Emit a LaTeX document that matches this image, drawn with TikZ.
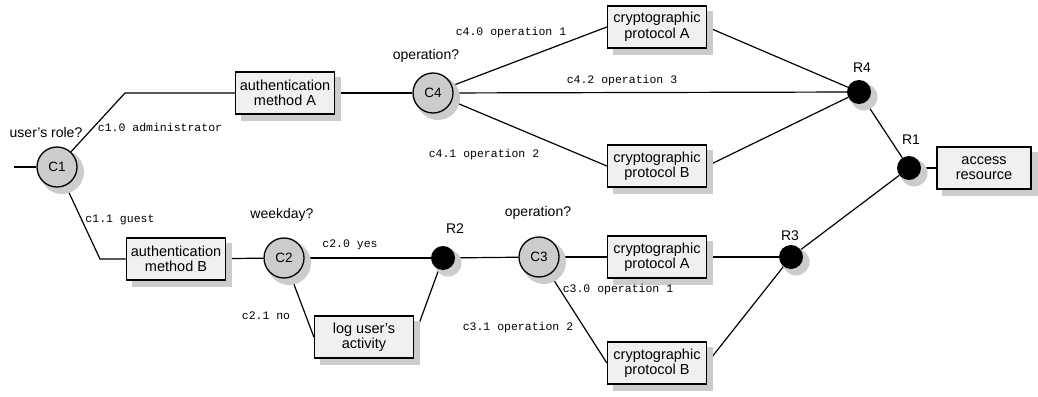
\documentclass[tikz,border=0pt]{standalone}
\usepackage{fontspec}
\setmainfont{Liberation Sans}
\setmonofont{Liberation Mono}
\usetikzlibrary{backgrounds}
\begin{document}
\begin{tikzpicture}[x=1pt,y=1pt,
  conn/.style={line width=1.2pt},
  shadowfill/.style={fill=gray!40},
  box/.style={draw, line width=1.3pt, fill=gray!12, minimum width=99pt, minimum height=42pt,
    inner sep=1pt, align=center, font=\fontsize{14.5}{15.5}\selectfont},
  cnode/.style={circle, draw, line width=1.3pt, fill=gray!40, minimum size=40pt, inner sep=0pt,
    font=\fontsize{13.5}{13.5}\selectfont},
  rnode/.style={circle, fill=black, minimum size=24pt, inner sep=0pt},
  head/.style={font=\fontsize{14}{15}\selectfont, inner sep=0pt},
  lab/.style={font=\ttfamily\fontsize{11.5}{12}\selectfont, inner sep=0pt}
]
\useasboundingbox (0,0) rectangle (1038,-396);

% nodes
\node[cnode] (C1) at (57,-167) {C1};
\node[box] (authA) at (285,-93) {authentication\\method A};
\node[cnode] (C4) at (433,-93) {C4};
\node[box] (cA1) at (657,-27) {cryptographic\\protocol A};
\node[box] (cB1) at (657,-166) {cryptographic\\protocol B};
\node[rnode] (R4) at (859,-92) {};
\node[rnode] (R1) at (909,-168) {};
\node[box, minimum width=94pt] (acc) at (984,-168) {access\\resource};
\node[box] (authB) at (176,-259) {authentication\\method B};
\node[cnode] (C2) at (284,-258) {C2};
\node[rnode] (R2) at (443,-258) {};
\node[box] (log) at (364,-337) {log user's\\activity};
\node[cnode] (C3) at (539,-257) {C3};
\node[box] (cA2) at (657,-257) {cryptographic\\protocol A};
\node[box] (cB2) at (657,-363) {cryptographic\\protocol B};
\node[rnode] (R3) at (791,-257) {};

\coordinate (start) at (14,-167);
\coordinate (c1a) at (125,-93);
\coordinate (c1b) at (100,-259);

\begin{pgfonlayer}{background}
\fill[white] (0,0) rectangle (1038,-396);
% connectors
\draw[conn] (start) -- (C1);
\draw[conn] (C1) -- (c1a) -- (authA.west);
\draw[conn] (C1) -- (c1b) -- (authB.west);
\draw[conn] (authA) -- (C4);
\draw[conn] (C4) -- (cA1.west);
\draw[conn] (C4) -- (R4);
\draw[conn] (C4) -- (cB1.west);
\draw[conn] (cA1.east) -- (R4);
\draw[conn] (cB1.east) -- (R4);
\draw[conn] (R4) -- (R1);
\draw[conn] (R1) -- (acc.west);
\draw[conn] (authB) -- (C2);
\draw[conn] (C2) -- (R2);
\draw[conn] (C2) -- (log.west);
\draw[conn] (R2) -- (log.east);
\draw[conn] (R2) -- (C3);
\draw[conn] (C3) -- (cA2.west);
\draw[conn] (C3) -- (cB2.west);
\draw[conn] (cA2.east) -- (R3);
\draw[conn] (cB2.east) -- (R3);
\draw[conn] (R3) -- (R1);
% shadows
\foreach \n in {authA,cA1,cB1,acc,authB,log,cA2,cB2}
  \fill[shadowfill] ([xshift=6pt,yshift=-6pt]\n.south west) rectangle ([xshift=6pt,yshift=-6pt]\n.north east);
\foreach \n in {C1,C2,C3,C4}
  \fill[shadowfill] ([xshift=5pt,yshift=-5pt]\n.center) circle (22);
\foreach \n in {R1,R2,R3,R4}
  \fill[shadowfill] ([xshift=5pt,yshift=-5pt]\n.center) circle (13.5);
\end{pgfonlayer}

% labels
\node[head] (t1) at (46,-132) {user's role?};
\node[lab] (l10) at (160,-127) {c1.0 administrator};
\node[lab] (l11) at (120,-220) {c1.1 guest};
\node[head] (t2) at (282,-215) {weekday?};
\node[lab] (l20) at (350,-245) {c2.0 yes};
\node[head] (tR2) at (455,-229) {R2};
\node[lab] (l21) at (266,-316) {c2.1 no};
\node[head] (t3) at (538,-213) {operation?};
\node[lab] (l30) at (618,-290) {c3.0 operation 1};
\node[lab] (l31) at (518,-328) {c3.1 operation 2};
\node[head] (tR3) at (790,-236) {R3};
\node[head] (tR4) at (862,-68) {R4};
\node[head] (tR1) at (911,-140) {R1};
\node[head] (t4) at (426,-56) {operation?};
\node[lab] (l40) at (511,-33) {c4.0 operation 1};
\node[lab] (l42) at (622,-81) {c4.2 operation 3};
\node[lab] (l41) at (484,-155) {c4.1 operation 2};
\end{tikzpicture}
\end{document}
